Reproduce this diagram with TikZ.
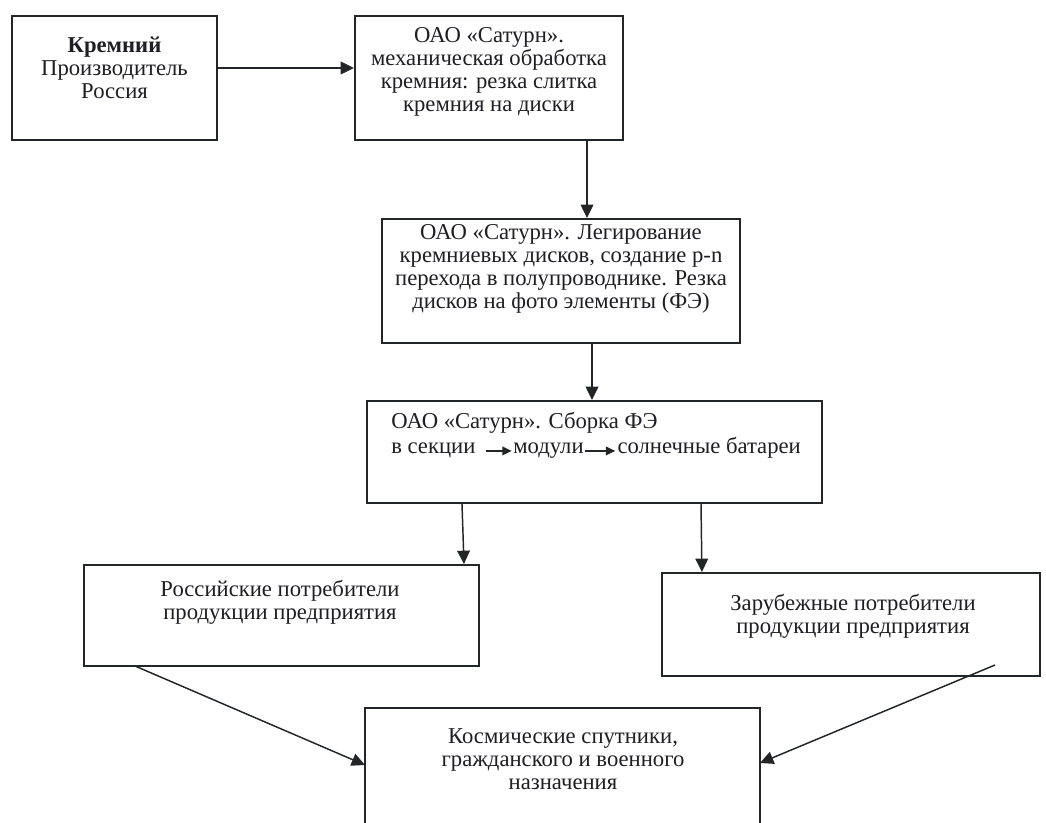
\documentclass[tikz,border=0pt]{standalone}
\usepackage{fontspec}
\setmainfont{Liberation Serif}
\usetikzlibrary{arrows.meta,positioning}

\tikzset{
  box/.style={draw={rgb,255:red,34;green,38;blue,40}, line width=1.5pt, minimum width=#1, inner sep=0pt},
  txt/.style={align=center, font=\fontsize{17}{17.4}\selectfont, text={rgb,255:red,30;green,30;blue,36}, inner sep=0pt},
  arr/.style={draw={rgb,255:red,34;green,38;blue,40}, line width=1.1pt, -{Triangle[length=10pt,width=9.5pt]}},
  small arr/.style={draw={rgb,255:red,34;green,38;blue,40}, line width=1pt, -{Triangle[length=7pt,width=6.5pt]}}
}

\begin{document}
\begin{tikzpicture}[x=0.75pt,y=0.75pt,yscale=-1,xscale=1]
\clip (0,0) rectangle (1046,823);
\fill[white] (0,0) rectangle (1046,823);

%Shape: Rectangle [id:kremniy]
\node [box=153.75pt, minimum height=93pt] (b1) at (114.5,78) {};
%Shape: Rectangle [id:mehobr]
\node [box=201pt, minimum height=93pt] (b2) at (489,78) {};
%Shape: Rectangle [id:legir]
\node [box=268.5pt, minimum height=93pt] (b3) at (561,281) {};
%Shape: Rectangle [id:sborka]
\node [box=341.25pt, minimum height=76.5pt] (b4) at (594.5,452) {};
%Shape: Rectangle [id:rospotr]
\node [box=296.25pt, minimum height=75.75pt] (b5) at (281.5,615.5) {};
%Shape: Rectangle [id:zarpotr]
\node [box=283.5pt, minimum height=77.25pt] (b6) at (851,624.5) {};
%Shape: Rectangle [id:sputniki]
\node [box=296.25pt, minimum height=99pt] (b7) at (562.5,774) {};

% Text Node
\node [txt] (t1) at (114.5,68) {\textbf{Кремний}\\Производитель\\Россия};
% Text Node
\node [txt] (t2) at (489,72) {ОАО «Сатурн».\\механическая обработка\\кремния: резка слитка\\кремния на диски};
% Text Node
\node [txt] (t3) at (561,269) {ОАО «Сатурн». Легирование\\кремниевых дисков, создание p-n\\перехода в полупроводнике. Резка\\дисков на фото элементы (ФЭ)};
% Text Node
\node [txt, anchor=base west] (t4) at (391,429) {ОАО «Сатурн». Сборка ФЭ};
% Text Node
\node [txt, anchor=base west] (sek) at (391,454) {в секции};
% Text Node
\node [txt, base right=28pt of sek] (mod) {модули};
% Text Node
\node [txt, base right=25pt of mod] (sol) {солнечные батареи};
% Text Node
\node [txt] (t5) at (280,602) {Российские потребители\\продукции предприятия};
% Text Node
\node [txt] (t6) at (853,616) {Зарубежные потребители\\продукции предприятия};
% Text Node
\node [txt] (t7) at (563,759) {Космические спутники,\\гражданского и военного\\назначения};

%Straight Lines
\coordinate (c23) at (587,0);
\coordinate (c34) at (592,0);
\coordinate (c45) at (462,0);
\coordinate (c46) at (701,0);
\coordinate (s5) at (135,666);
\coordinate (e5) at (365,765);
\coordinate (s6) at (995,665);
\coordinate (e6) at (760,763);

\draw [arr] (b1.east |- t1.center) -- (b2.west |- t1.center);
\draw [arr] (b2.south -| c23) -- (b3.north -| c23);
\draw [arr] (b3.south -| c34) -- (b4.north -| c34);
\draw [arr] (b4.south -| c45) -- ([xshift=1.5pt]b5.north -| c45);
\draw [arr] (b4.south -| c46) -- ([xshift=0.7pt]b6.north -| c46);
\draw [arr] (s5) -- (e5);
\draw [arr] (s6) -- (e6);

\draw [small arr] ([xshift=7.5pt]sek.mid east) -- ([xshift=-1pt]mod.mid west);
\draw [small arr] ([xshift=0.5pt]mod.mid east) -- ([xshift=-1.5pt]sol.mid west);

\end{tikzpicture}
\end{document}
